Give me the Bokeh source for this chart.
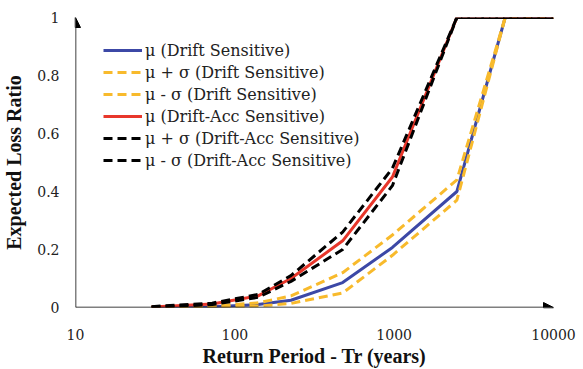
from bokeh.plotting import figure
from bokeh.models import Range1d, FixedTicker, Arrow, NormalHead, Legend
from bokeh.embed import file_html
from bokeh.resources import INLINE

# Return periods (years)
tr = [30, 72, 140, 225, 475, 975, 2475, 4975, 10000]

# Expected loss ratio series
drift_mu = [0.0, 0.003, 0.01, 0.025, 0.086, 0.207, 0.40, 1.0, 1.0]
drift_plus = [0.001, 0.005, 0.016, 0.04, 0.12, 0.25, 0.44, 1.0, 1.0]
drift_minus = [0.0, 0.001, 0.005, 0.014, 0.05, 0.18, 0.37, 1.0, 1.0]
acc_mu = [0.002, 0.012, 0.04, 0.10, 0.23, 0.45, 1.0, 1.0, 1.0]
acc_plus = [0.003, 0.015, 0.045, 0.11, 0.26, 0.48, 1.0, 1.0, 1.0]
acc_minus = [0.001, 0.01, 0.035, 0.09, 0.20, 0.42, 1.0, 1.0, 1.0]

labels = [
    "μ (Drift Sensitive)",
    "μ + σ (Drift Sensitive)",
    "μ - σ (Drift Sensitive)",
    "μ (Drift-Acc Sensitive)",
    "μ + σ (Drift-Acc Sensitive)",
    "μ - σ (Drift-Acc Sensitive)",
]

x_ticks = [10, 100, 1000, 10000]
x_tick_labels = ["10", "100", "1000", "10000"]
y_ticks = [0, 0.2, 0.4, 0.6, 0.8, 1]
y_tick_labels = ["0", "0.2", "0.4", "0.6", "0.8", "1"]

TITLE_FONT = "Liberation Serif"
TEXT_FONT = "DejaVu Serif"

p = figure(width=583, height=369, x_axis_type="log",
           x_range=Range1d(10, 10000), y_range=Range1d(0, 1),
           output_backend="svg", toolbar_location=None,
           min_border_left=72, min_border_right=30,
           min_border_top=17, min_border_bottom=62)
p.outline_line_color = None
p.grid.visible = False

series = [
    (drift_mu, "#3C48A6", None),
    (drift_plus, "#F8BA2C", "9 5"),
    (drift_minus, "#F8BA2C", "9 5"),
    (acc_mu, "#E8372B", None),
    (acc_plus, "#000000", "9 5"),
    (acc_minus, "#000000", "9 5"),
]
items = []
for (ys, col, dash), lab in zip(series, labels):
    kw = dict(line_color=col, line_width=3)
    if dash:
        kw["line_dash"] = dash
    r = p.line(tr, ys, **kw)
    items.append((lab, [r]))

legend = Legend(items=items, location=(28, 136))
legend.background_fill_alpha = 0
legend.border_line_color = None
legend.padding = 0
legend.margin = 0
legend.spacing = 0
legend.label_height = 22
legend.glyph_height = 22
legend.glyph_width = 39
legend.label_standoff = 3
legend.label_text_font = TEXT_FONT
legend.label_text_font_size = "16px"
legend.label_text_color = "#222222"
p.add_layout(legend, "center")

for ax in (p.xaxis[0], p.yaxis[0]):
    ax.axis_line_color = None
    ax.major_tick_line_color = None
    ax.minor_tick_line_color = None
    ax.major_label_text_font = TEXT_FONT
    ax.major_label_text_font_size = "14px"
    ax.major_label_text_color = "#222222"
    ax.axis_label_text_font = TITLE_FONT
    ax.axis_label_text_font_style = "bold"
    ax.axis_label_text_font_size = "20px"
    ax.axis_label_text_color = "#111111"

p.xaxis.ticker = FixedTicker(ticks=x_ticks)
p.xaxis.major_label_overrides = dict(zip(x_ticks, x_tick_labels))
p.xaxis.major_label_standoff = 15
p.xaxis.axis_label = "Return Period - Tr (years)"
p.xaxis.axis_label_standoff = 2

p.yaxis.ticker = FixedTicker(ticks=y_ticks)
p.yaxis.major_label_overrides = dict(zip(y_ticks, y_tick_labels))
p.yaxis.major_label_standoff = 10
p.yaxis.axis_label = "Expected Loss Ratio"
p.yaxis.axis_label_standoff = 9

p.add_layout(Arrow(end=NormalHead(size=10, fill_color="black", line_color="black"),
                   x_start=10, y_start=0, x_end=10, y_end=1,
                   line_color="black", line_width=1.5))
p.add_layout(Arrow(end=NormalHead(size=10, fill_color="black", line_color="black"),
                   x_start=10, y_start=0, x_end=10000, y_end=0,
                   line_color="black", line_width=1.5))

open("out.html", "w").write(file_html(p, INLINE))
